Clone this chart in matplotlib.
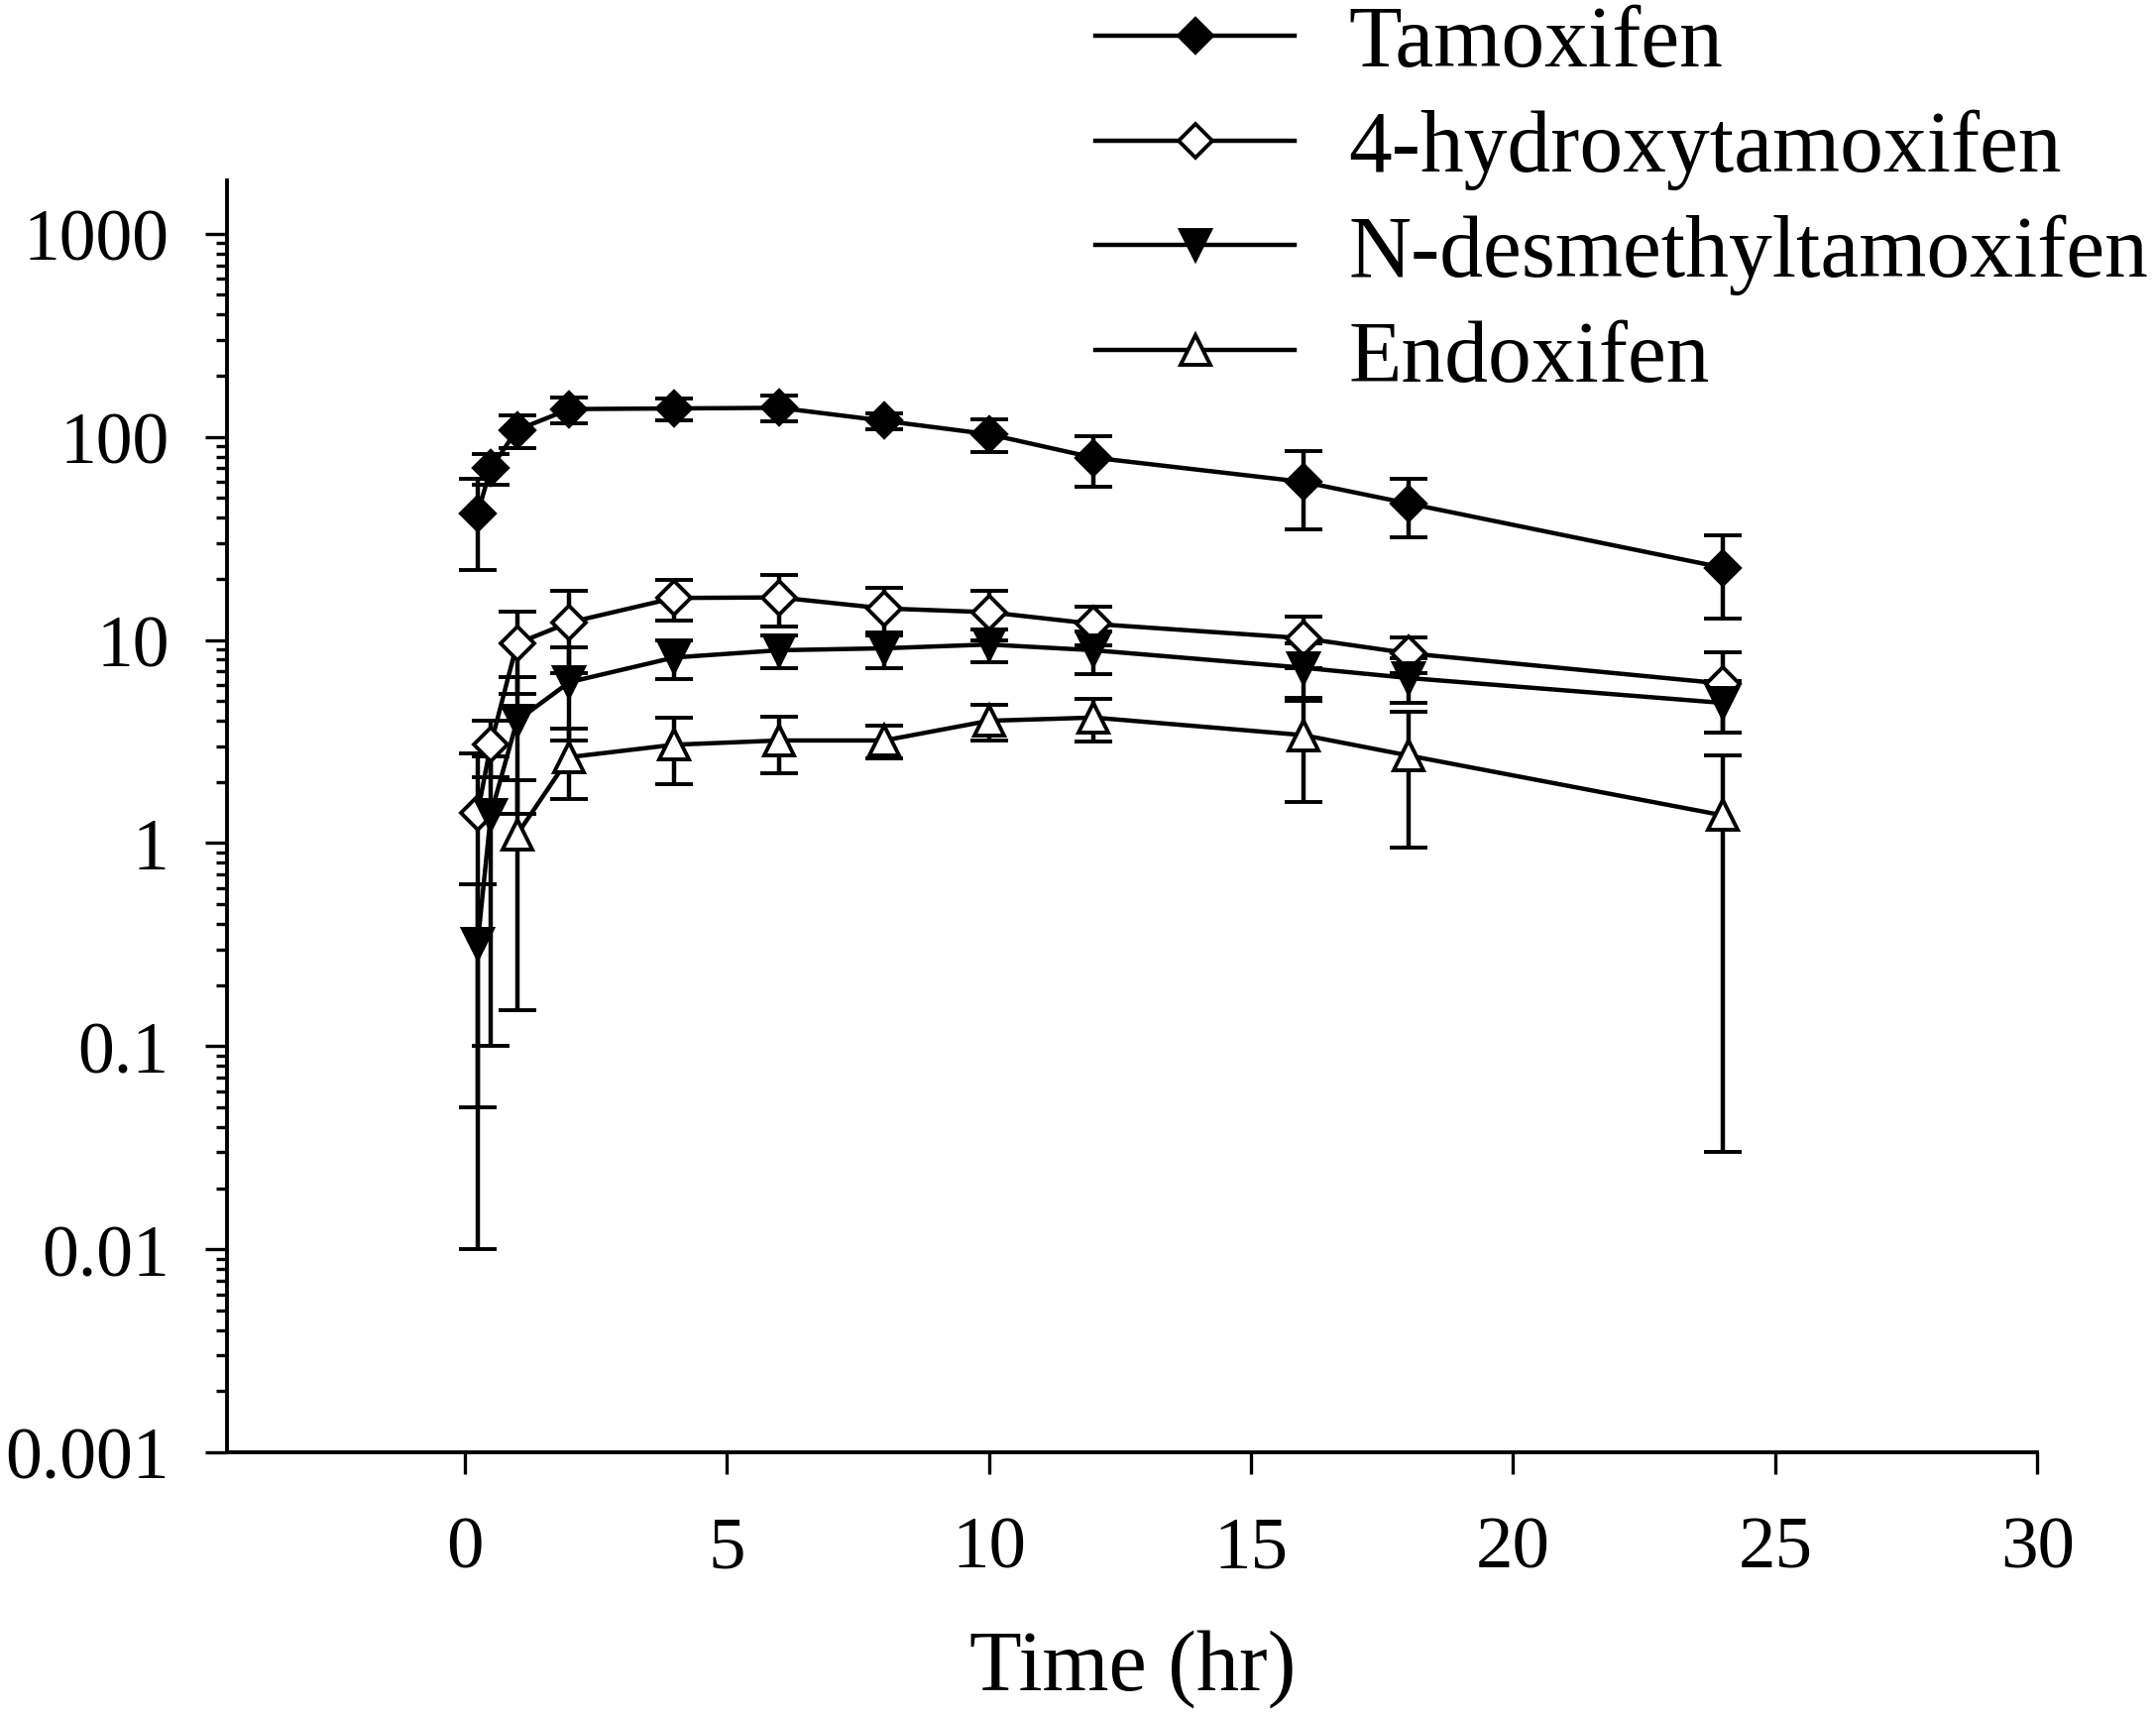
import matplotlib
matplotlib.use("Agg")
import matplotlib.pyplot as plt
import numpy as np
from matplotlib.lines import Line2D
from matplotlib.ticker import FixedLocator, FixedFormatter, LogLocator, NullFormatter

plt.rcParams['font.family'] = ['Liberation Serif', 'DejaVu Serif']

# sampling times (hr)
times = [0.25, 0.5, 1, 2, 4, 6, 8, 10, 12, 16, 18, 24]
times_endo = [1, 2, 4, 6, 8, 10, 12, 16, 18, 24]

# mean concentrations and SD
tam = [42, 70, 108, 137, 138, 139, 120, 103, 79, 60, 47, 22.7]
tam_sd = [20, 12, 20, 20, 17, 20, 11, 19, 22, 25, 15, 10]
oh = [1.41, 3.05, 9.6, 12.2, 16.1, 16.2, 14.3, 13.7, 12.0, 10.2, 8.6, 6.1]
oh_sd = [1.36, 0.95, 4.2, 5.3, 3.6, 4.6, 3.8, 3.7, 2.6, 2.9, 1.7, 2.6]
nd = [0.32, 1.38, 4.0, 6.2, 8.2, 8.9, 9.1, 9.5, 8.9, 7.3, 6.5, 4.9]
nd_sd = [0.31, 1.28, 2.6, 3.0, 1.8, 1.6, 1.8, 1.7, 2.1, 2.3, 1.6, 1.4]
endo = [1.1, 2.65, 3.05, 3.2, 3.2, 4.0, 4.15, 3.4, 2.7, 1.37]
endo_sd = [0.95, 1.0, 1.1, 1.0, 0.6, 0.8, 1.0, 1.8, 1.75, 1.34]

names = ["Tamoxifen", "4-hydroxytamoxifen", "N-desmethyltamoxifen", "Endoxifen"]

yticks = [0.001, 0.01, 0.1, 1, 10, 100, 1000]
ytick_labels = ["0.001", "0.01", "0.1", "1", "10", "100", "1000"]
xticks = [0, 5, 10, 15, 20, 25, 30]

fig = plt.figure(figsize=(10.875, 8.655), dpi=200)
ax = fig.add_axes([0.1053, 0.153, 0.945 - 0.1053, 0.894 - 0.153])

styles = [
    dict(marker='D', mfc='black', ms=8.5),
    dict(marker='D', mfc='white', ms=8.5),
    dict(marker='v', mfc='black', ms=10.5),
    dict(marker='^', mfc='white', ms=10.5),
]
series = [(times, tam, tam_sd), (times, oh, oh_sd), (times, nd, nd_sd),
          (times_endo, endo, endo_sd)]

handles = []
for (t, m, sd), st, name in zip(series, styles, names):
    m = np.array(m)
    sd = np.array(sd)
    ax.errorbar(t, m, yerr=[sd, sd], color='black', lw=1.6, elinewidth=1.6,
                capsize=7, capthick=1.6, mec='black', mew=1.4, **st)
    handles.append(Line2D([], [], color='black', lw=1.6, mec='black', mew=1.4,
                          label=name, **st))

ax.set_yscale('log')
ax.set_ylim(0.001, 1820)
ax.set_xlim(-4.53, 30)

ax.spines['top'].set_visible(False)
ax.spines['right'].set_visible(False)
ax.spines['left'].set_linewidth(1.4)
ax.spines['bottom'].set_linewidth(1.4)

ax.yaxis.set_major_locator(FixedLocator(yticks))
ax.yaxis.set_major_formatter(FixedFormatter(ytick_labels))
ax.yaxis.set_minor_locator(LogLocator(base=10, subs=np.arange(2, 10), numticks=20))
ax.yaxis.set_minor_formatter(NullFormatter())
ax.set_xticks(xticks)
ax.set_xticklabels([str(v) for v in xticks])

ax.tick_params(axis='y', which='major', direction='out', length=8, width=1.2,
               labelsize=26.5, pad=13)
ax.tick_params(axis='y', which='minor', direction='out', length=4, width=1.2)
ax.tick_params(axis='x', which='major', direction='out', length=8, width=1.2,
               labelsize=27, pad=15)

ax.set_xlabel("Time (hr)", fontsize=31, labelpad=17)

fig.legend(handles=handles, loc='upper left', bbox_to_anchor=(0.508, 0.997),
           frameon=False, fontsize=31.5, handlelength=2.3, handletextpad=0.62,
           labelspacing=0.28, borderpad=0, borderaxespad=0)

fig.savefig("out.png", dpi=200)
